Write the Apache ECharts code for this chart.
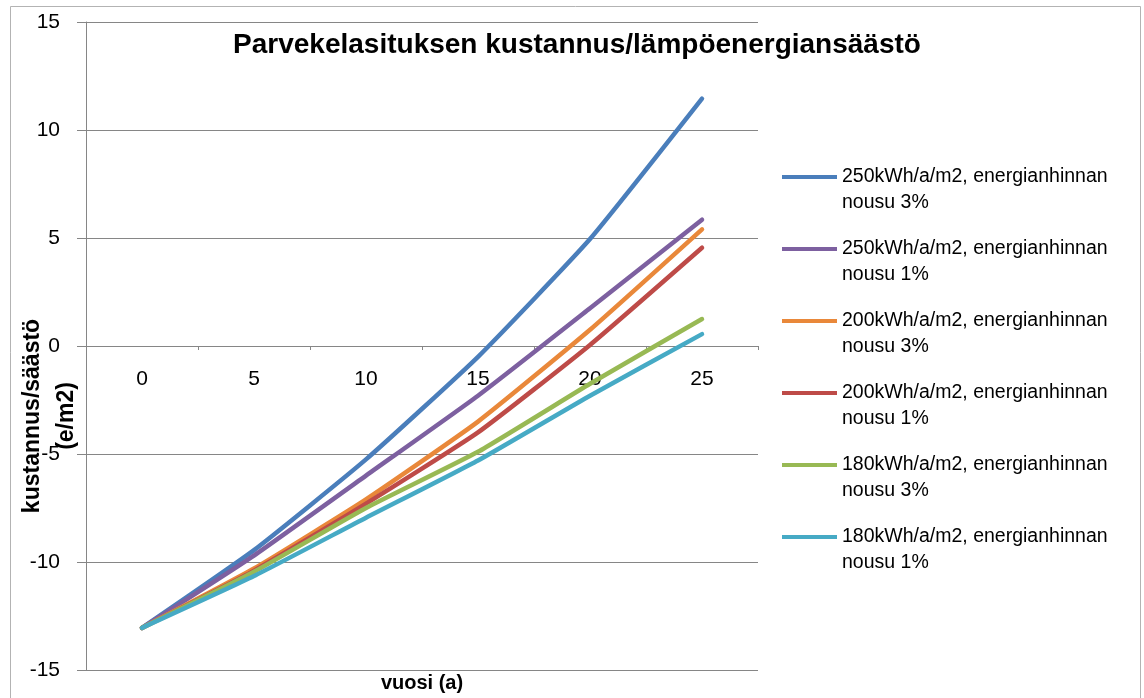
<!DOCTYPE html>
<html>
<head>
<meta charset="utf-8">
<script src="https://cdn.jsdelivr.net/npm/echarts@6/dist/echarts.min.js"></script>
<style>
html,body{margin:0;padding:0;background:#fff;}
#chart{width:1144px;height:698px;}
</style>
</head>
<body>
<div id="chart"></div>
<script>
const categories = ['0', '5', '10', '15', '20', '25'];
const seriesNames = [
  '250kWh/a/m2, energianhinnan\nnousu 3%',
  '250kWh/a/m2, energianhinnan\nnousu 1%',
  '200kWh/a/m2, energianhinnan\nnousu 3%',
  '200kWh/a/m2, energianhinnan\nnousu 1%',
  '180kWh/a/m2, energianhinnan\nnousu 3%',
  '180kWh/a/m2, energianhinnan\nnousu 1%'
];
const s250_3 = [-13.05, -9.45, -5.25, -0.5, 4.95, 11.45];
const s250_1 = [-13.05, -9.7, -6.0, -2.3, 1.75, 5.85];
const s200_3 = [-13.05, -10.3, -7.1, -3.5, 0.75, 5.4];
const s200_1 = [-13.05, -10.4, -7.3, -4.0, 0.05, 4.55];
const s180_3 = [-13.05, -10.45, -7.5, -4.9, -1.75, 1.25];
const s180_1 = [-13.05, -10.65, -7.95, -5.3, -2.3, 0.55];
const titleText = 'Parvekelasituksen kustannus/lämpöenergiansäästö';
const xName = 'vuosi (a)';
const yName = 'kustannus/säästö\n(e/m2)';

const colors = ['#4A7EBB', '#7D60A0', '#E9883A', '#BE4B48', '#98B954', '#46AAC5'];
const allData = [s250_3, s250_1, s200_3, s200_1, s180_3, s180_1];
const FONT = '"Liberation Sans", Arial, sans-serif';
const PLOT_TOP = 22, PLOT_BOTTOM = 28, H = 698;
const yMin = -15, yMax = 15;
// move the category axis up to value 0 (like Excel "crosses at 0")
const plotH = H - PLOT_TOP - PLOT_BOTTOM;
const zeroOffset = -plotH * (0 - yMin) / (yMax - yMin);

const chart = echarts.init(document.getElementById('chart'));
chart.setOption({
  animation: false,
  backgroundColor: '#fff',
  color: colors,
  title: [
    {
      text: titleText, left: 577, top: 31, textAlign: 'center', padding: 0,
      textStyle: {fontFamily: FONT, fontWeight: 'bold', fontSize: 28, color: '#000'}
    },
    {
      text: xName, left: 422, top: 673, textAlign: 'center', padding: 0,
      textStyle: {fontFamily: FONT, fontWeight: 'bold', fontSize: 20, color: '#000'}
    }
  ],
  graphic: [
    {
      type: 'rect', silent: true, z: -1,
      shape: {x: 10.5, y: 6.5, width: 1130, height: 720},
      style: {fill: 'none', stroke: '#b3b3b3', lineWidth: 1}
    },
    {
      type: 'text', x: 50, y: 416, rotation: Math.PI / 2,
      style: {
        text: yName, fontFamily: FONT, fontWeight: 'bold', fontSize: 23,
        lineHeight: 34, fill: '#000', align: 'center', verticalAlign: 'middle'
      }
    }
  ],
  legend: {
    orient: 'vertical', left: 782, top: 138, itemGap: -6, padding: 0,
    itemWidth: 55, itemHeight: 14,
    data: seriesNames.map((n) => ({name: n, icon: 'path://M0,6 L55,6 L55,10 L0,10 Z'})),
    formatter: (name) => '\n' + name,
    textStyle: {fontFamily: FONT, fontSize: 19.5, color: '#000', lineHeight: 26}
  },
  grid: {left: 86, right: 386, top: PLOT_TOP, bottom: PLOT_BOTTOM, containLabel: false, outerBoundsMode: 'none'},
  xAxis: {
    type: 'category', data: categories, boundaryGap: true,
    position: 'bottom', offset: zeroOffset,
    axisLine: {onZero: false, lineStyle: {color: '#868686', width: 1}},
    axisTick: {show: true, length: 4, lineStyle: {color: '#868686'}},
    axisLabel: {fontFamily: FONT, fontSize: 21, color: '#000', margin: 23},
    splitLine: {show: false}
  },
  yAxis: {
    type: 'value', min: yMin, max: yMax, interval: 5,
    axisLine: {show: true, lineStyle: {color: '#868686', width: 1}},
    axisTick: {show: true, length: 9, lineStyle: {color: '#868686'}},
    axisLabel: {fontFamily: FONT, fontSize: 21, color: '#000', margin: 26},
    splitLine: {show: true, lineStyle: {color: '#868686', width: 1}}
  },
  series: allData.map((d, i) => ({
    name: seriesNames[i], type: 'line', data: d,
    smooth: 0.15, symbol: 'none',
    lineStyle: {width: 4.5, color: colors[i], cap: 'round', join: 'round'},
    itemStyle: {color: colors[i]}
  }))
});
</script>
</body>
</html>
